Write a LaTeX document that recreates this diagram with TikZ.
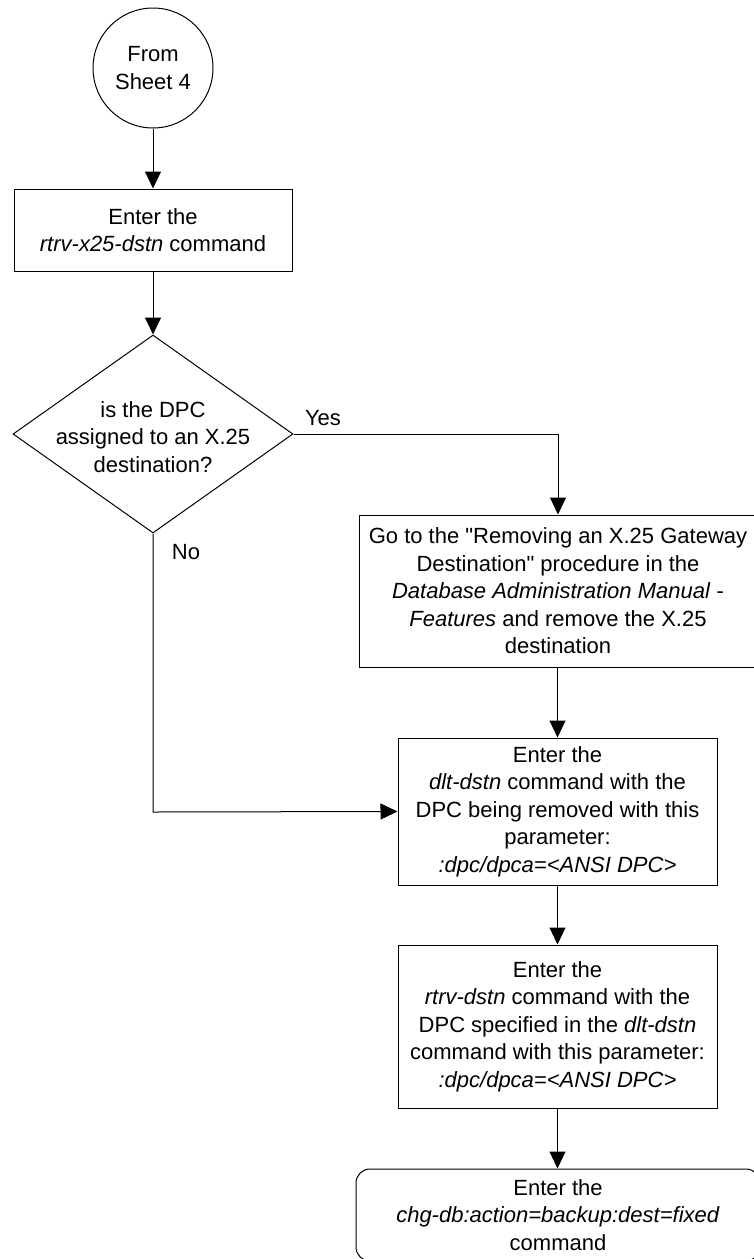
\documentclass[tikz,border=0pt]{standalone}
\usepackage{fontspec}
\setmainfont{Liberation Sans}
\usetikzlibrary{shapes.geometric,arrows.meta}
\begin{document}
\begin{tikzpicture}[x=1pt,y=-1pt,
  every node/.style={font=\fontsize{22}{27.5}\selectfont},
  box/.style={draw,line width=1pt,rectangle,align=center,inner sep=0pt},
  term/.style={draw,line width=1pt,rectangle,rounded corners=14pt,align=center,inner sep=0pt},
  conn/.style={draw,line width=1pt},
  arr/.style={conn,-{Triangle[length=17pt,width=16pt]}},
  lbl/.style={inner sep=0pt}]
\useasboundingbox (0,0) rectangle (754,1259);
\node[draw,line width=1pt,circle,minimum size=120pt,inner sep=0pt,align=center] (start) at (153,68) {From\\Sheet 4};
\node[box,minimum width=278pt,minimum height=82pt] (b1) at (153,230) {Enter the\\\textit{rtrv-x25-dstn} command};
\node[draw,line width=1pt,diamond,minimum width=280pt,minimum height=198pt,inner sep=0pt] (dec) at (153,434) {};
\node[lbl,align=center] (dectext) at (153,437) {is the DPC\\assigned to an X.25\\destination?};
\node[box,minimum width=398pt,minimum height=152pt] (b2) at (558,591) {Go to the \textquotedbl Removing an X.25 Gateway\\Destination\textquotedbl{} procedure in the\\\textit{Database Administration Manual} -\\\textit{Features} and remove the X.25\\destination};
\node[box,minimum width=319pt,minimum height=147pt] (b3) at (557.5,811.5) {Enter the\\\textit{dlt-dstn} command with the\\DPC being removed with this\\parameter:\\\textit{:dpc/dpca=<ANSI DPC>}};
\node[box,minimum width=319pt,minimum height=163pt] (b4) at (557.5,1026.5) {Enter the\\\textit{rtrv-dstn} command with the\\DPC specified in the \textit{dlt-dstn}\\command with this parameter:\\\textit{:dpc/dpca=<ANSI DPC>}};
\node[term,minimum width=404pt,minimum height=92pt] (b5) at (558,1215) {Enter the\\\textit{chg-db:action=backup:dest=fixed}\\command};
\coordinate (yescorner) at (558,434);
\coordinate (nocorner) at (153,812);
\draw[arr] (start) -- (b1);
\draw[arr] (b1) -- (dec.north);
\draw[arr] (dec.east) -- (yescorner) -- (b2.north);
\draw[arr] (b2.south -| b3.north) -- (b3.north);
\draw[arr] (dec.south) -- (nocorner) -- (b3.west);
\draw[arr] (b3) -- (b4);
\draw[arr] (b4.south) -- (b4.south |- b5.north);
\node[lbl] (yes) at (323,418) {Yes};
\node[lbl] (no) at (186,552) {No};
\end{tikzpicture}
\end{document}
